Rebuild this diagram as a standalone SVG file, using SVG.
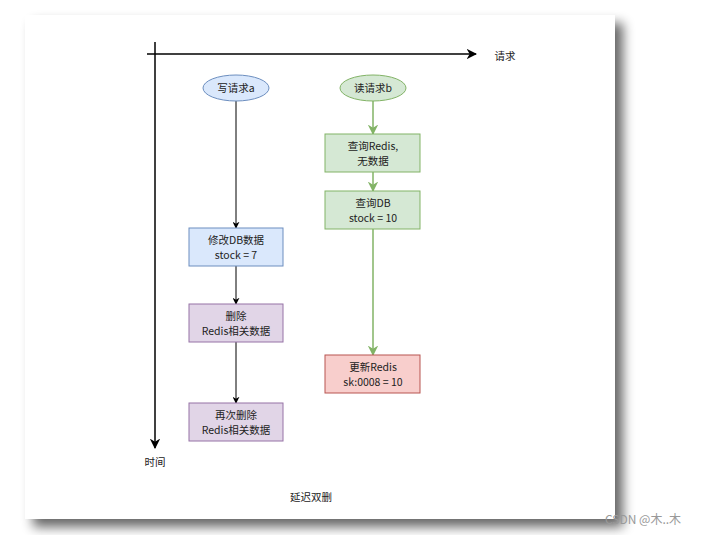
<svg xmlns="http://www.w3.org/2000/svg" width="701" height="535" viewBox="0 0 701 535">
<defs>
<filter id="sh" x="-10%" y="-10%" width="125%" height="125%"><feGaussianBlur in="SourceAlpha" stdDeviation="6"/><feOffset dx="8" dy="8"/><feComponentTransfer><feFuncA type="linear" slope="0.6"/></feComponentTransfer><feMerge><feMergeNode/><feMergeNode in="SourceGraphic"/></feMerge></filter>
<marker id="ab" viewBox="0 0 10 10" refX="9" refY="5" markerWidth="7" markerHeight="7" orient="auto"><path d="M0,0 L10,5 L0,10 L3,5 Z" fill="#000"/></marker>
<marker id="ag" viewBox="0 0 10 10" refX="9" refY="5" markerWidth="7" markerHeight="7" orient="auto"><path d="M0,0 L10,5 L0,10 L3,5 Z" fill="#82b366"/></marker>
<style>
text{font-family:"Noto Sans CJK SC","Liberation Sans",sans-serif;font-size:10.5px;fill:#222;text-anchor:middle}
.b{fill:#dae8fc;stroke:#6c8ebf}
.g{fill:#d5e8d4;stroke:#82b366}
.p{fill:#e1d5e7;stroke:#9673a6}
.r{fill:#f8cecc;stroke:#b85450}
.k{stroke:#000;fill:none;marker-end:url(#ab)}
.gl{stroke:#82b366;stroke-width:1.5;fill:none;marker-end:url(#ag)}
</style>
</defs>
<rect width="701" height="535" fill="#fff"/>
<rect x="25" y="15" width="590" height="504" fill="#fff" filter="url(#sh)"/>
<g id="connectors">
<line class="k" x1="147" y1="54" x2="476" y2="54" stroke-width="1.5"/>
<line class="k" x1="155" y1="42" x2="155" y2="448" stroke-width="1.5"/>
<line class="k" x1="236" y1="101" x2="236" y2="228"/>
<line class="k" x1="236" y1="266" x2="236" y2="304"/>
<line class="k" x1="236" y1="342" x2="236" y2="403"/>
<line class="gl" x1="373" y1="101" x2="373" y2="134"/>
<line class="gl" x1="373" y1="172" x2="373" y2="191"/>
<line class="gl" x1="373" y1="229" x2="373" y2="355"/>
</g>
<g id="axis-labels"><text x="505" y="60">请求</text><text x="155" y="466">时间</text></g>
<g id="writeA"><ellipse class="b" cx="236" cy="88" rx="33" ry="13"/><text x="236" y="92">写请求a</text></g>
<g id="readB"><ellipse class="g" cx="373" cy="88" rx="33" ry="13"/><text x="373" y="92">读请求b</text></g>
<g id="qRedis"><rect class="g" x="325" y="134" width="95" height="38"/><text x="373" y="150">查询Redis,</text><text x="373" y="165">无数据</text></g>
<g id="qDB"><rect class="g" x="325" y="191" width="95" height="38"/><text x="373" y="207">查询DB</text><text x="373" y="222">stock = 10</text></g>
<g id="modDB"><rect class="b" x="189" y="228" width="94" height="38"/><text x="236" y="244">修改DB数据</text><text x="236" y="259">stock = 7</text></g>
<g id="del"><rect class="p" x="189" y="304" width="94" height="38"/><text x="236" y="320">删除</text><text x="236" y="335">Redis相关数据</text></g>
<g id="del2"><rect class="p" x="189" y="403" width="94" height="38"/><text x="236" y="419">再次删除</text><text x="236" y="434">Redis相关数据</text></g>
<g id="upd"><rect class="r" x="325" y="355" width="95" height="38"/><text x="373" y="371">更新Redis</text><text x="373" y="386">sk:0008 = 10</text></g>
<g id="title"><text x="311" y="501">延迟双删</text></g>
<text x="643" y="524" style="fill:#999;font-size:12px">CSDN @木..木</text>
</svg>
